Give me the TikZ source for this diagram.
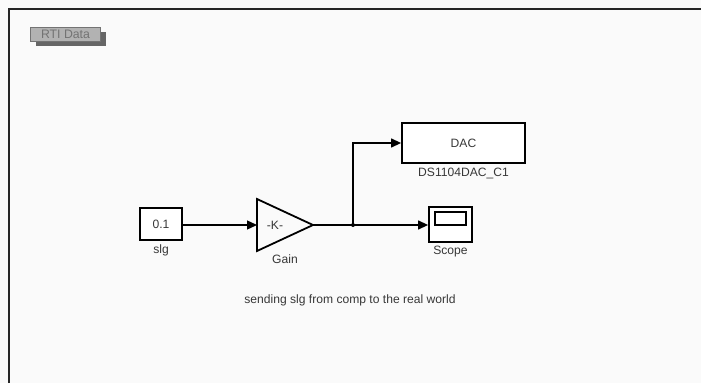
\documentclass[tikz,border=0pt]{standalone}
\usepackage{fontspec}
\setmainfont{Liberation Sans}
\usetikzlibrary{arrows.meta}
\definecolor{txt}{RGB}{55,55,55}
\begin{document}
\begin{tikzpicture}[x=1pt,y=-1pt,
  blk/.style={draw=black,line width=1.8pt,fill=white,inner sep=0pt},
  lbl/.style={text=txt,font=\fontsize{12.1}{13}\selectfont,inner sep=0pt},
  sig/.style={line width=1.3pt,-{Triangle[length=10pt,width=9pt]}},
  wire/.style={line width=1.3pt}]
\useasboundingbox (0,0) rectangle (701,383);
\fill[white!98!black] (0,0) rectangle (701,383);
% frame
\draw[line width=2.2pt,black!85] (9,383) -- (9,9) -- (701,9);
% RTI Data
\fill[black!60] (36,32) rectangle (106,46);
\node[draw=black!55,fill=black!30,line width=1pt,minimum width=70pt,minimum height=14pt,inner sep=0pt,anchor=north west,text=black!55,font=\fontsize{12.3}{13}\selectfont] (rti) at (30,27) {RTI Data};
% constant
\node[blk,minimum width=42pt,minimum height=32pt] (c) at (161,224) {};
\node[lbl] at (c) {0.1};
\node[lbl,anchor=north] (cl) at (161,245) {slg};
% gain
\coordinate (g1) at (257,199);
\coordinate (g2) at (257,251);
\coordinate (gt) at (313,225);
\draw[line width=1.8pt,line join=miter] (g1) -- (gt) -- (g2) -- cycle;
\node[lbl] (gk) at (275,225) {-K-};
\node[lbl,anchor=north] (gl) at (285,255) {Gain};
\coordinate (gin) at (257,225);
% DAC
\node[blk,minimum width=123pt,minimum height=40pt] (dac) at (463.5,143) {};
\node[lbl] at (dac) {DAC};
\node[lbl,anchor=north] (dacl) at (463.5,168) {DS1104DAC\_C1};
% scope
\node[blk,minimum width=43pt,minimum height=35pt] (sc) at (450.5,224.5) {};
\draw[line width=1.5pt] (435,212) rectangle (466,225);
\node[lbl,anchor=north] (scl) at (450.5,246) {Scope};
% note
\node[lbl] (note) at (350,300) {sending slg from comp to the real world};
% connectors
\coordinate (br) at (353,225);
\draw[sig] (c.east |- gin) -- (gin);
\draw[wire] (gt) -- (br);
\draw[sig] (br) -- (sc.west |- br);
\draw[sig] (br) |- (dac.west);
\fill (br) circle (2pt);
\end{tikzpicture}
\end{document}
